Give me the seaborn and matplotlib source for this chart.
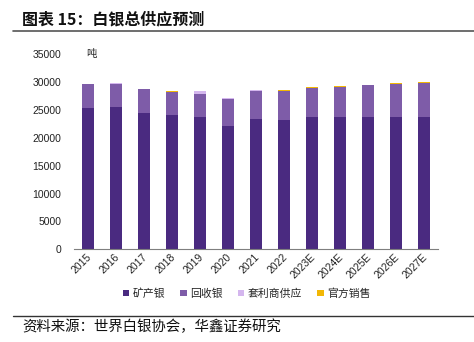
import matplotlib
matplotlib.use("Agg")
import matplotlib.pyplot as plt
import matplotlib.transforms as mtransforms
from matplotlib.patches import Patch
import numpy as np
import pandas as pd
import seaborn as sns

years = ["2015", "2016", "2017", "2018", "2019", "2020", "2021", "2022",
         "2023E", "2024E", "2025E", "2026E", "2027E"]
mine = [25420, 25540, 24520, 24110, 23690, 22190, 23440, 23260, 23800, 23800, 23800, 23800, 23800]
recycled = [4200, 4190, 4200, 4180, 4240, 4740, 5030, 5150, 5210, 5390, 5640, 5870, 6050]
arbitrage = [60, 40, 40, 30, 420, 200, 40, 0, 0, 0, 0, 0, 0]
official = [30, 20, 30, 20, 10, 20, 30, 130, 80, 60, 80, 100, 150]

series_names = ["矿产银", "回收银", "套利商供应", "官方销售"]
colors = ["#4a2a80", "#7e5ca8", "#d4b6ee", "#f2b705"]
yticks = [0, 5000, 10000, 15000, 20000, 25000, 30000, 35000]

sns.set_theme(style="white")
plt.rcParams["font.family"] = ["Liberation Sans", "Noto Sans CJK SC", "DejaVu Sans"]
cjk = ["Noto Sans CJK SC", "DejaVu Sans"]

df = pd.DataFrame({"year": years, "mine": mine, "recycled": recycled,
                   "arbitrage": arbitrage, "official": official})
layers = ["mine", "recycled", "arbitrage", "official"]
cum = df[layers].cumsum(axis=1)

fig = plt.figure(figsize=(4.74, 3.42), dpi=100)
ax = fig.add_axes([74 / 474, 1 - 249.3 / 342, 364 / 474, 195 / 342])

for i in range(len(layers) - 1, -1, -1):
    sns.barplot(x=df["year"], y=cum[layers[i]], ax=ax, color=colors[i],
                width=0.42, saturation=1, edgecolor="none", linewidth=0)

ax.set_xlim(-0.5, len(years) - 0.5)
ax.set_ylim(0, 35000)
ax.set_yticks(yticks)
ax.set_yticklabels([str(v) for v in yticks], fontsize=7.5, color="#222222")
ax.set_xlabel("")
ax.set_ylabel("")
for s in ["top", "right", "left"]:
    ax.spines[s].set_visible(False)
ax.spines["bottom"].set_color("#7f7f7f")
ax.spines["bottom"].set_linewidth(0.8)

ax.tick_params(axis="y", length=0, pad=9)
ax.set_xticks(np.arange(len(years)))
ax.set_xticklabels(years, rotation=45, ha="right", fontsize=7.5, color="#222222")
ax.tick_params(axis="x", which="major", length=0, pad=2)
ax.set_xticks(np.arange(len(years) + 1) - 0.5, minor=True)
ax.tick_params(axis="x", which="minor", length=3, width=0.8, color="#7f7f7f", direction="out")
offset = mtransforms.ScaledTranslation(5 / 100, 0, fig.dpi_scale_trans)
for lab in ax.get_xticklabels():
    lab.set_transform(lab.get_transform() + offset)

ax.text(0.033, 1.0, "吨", transform=ax.transAxes, fontsize=7.5, family=cjk,
        va="center", ha="left", color="#222222")

handles = [Patch(facecolor=c, edgecolor="none") for c in colors]
fig.legend(handles, series_names, loc="center", bbox_to_anchor=(0.52, 1 - 293.5 / 342),
           ncol=4, frameon=False, prop={"family": cjk, "size": 7.8},
           handlelength=0.6, handleheight=0.6, handletextpad=0.3, columnspacing=1.4)

fig.text(22 / 474, 1 - 19.5 / 342, "图表 15：白银总供应预测", fontsize=11.5, fontweight="bold",
         family=cjk, va="center", ha="left", color="#111111")
fig.add_artist(plt.Line2D([13 / 474, 1], [1 - 30.7 / 342] * 2, color="#555555", linewidth=1.2))
fig.add_artist(plt.Line2D([13 / 474, 1], [1 - 316 / 342] * 2, color="#333333", linewidth=1.0))
fig.text(22 / 474, 1 - 327 / 342, "资料来源：世界白银协会，华鑫证券研究", fontsize=10.4,
         family=cjk, va="center", ha="left", color="#111111")

fig.savefig("out.png", dpi=100)
